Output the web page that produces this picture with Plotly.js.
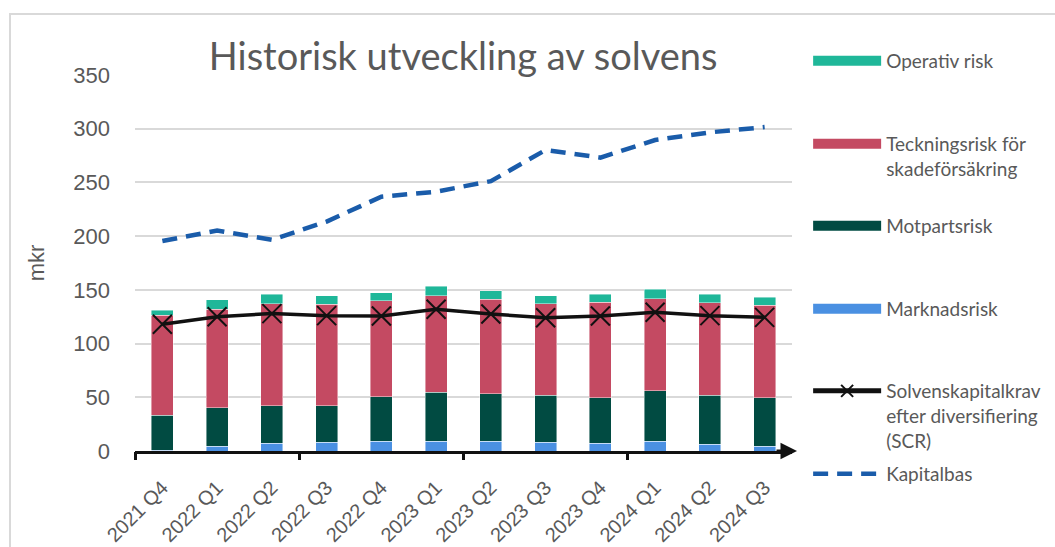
<!DOCTYPE html>
<html>
<head>
<meta charset="utf-8">
<script src="https://cdn.plot.ly/plotly-3.0.1.min.js"></script>
<style>
  html, body { margin: 0; padding: 0; background: #ffffff; }
  #wrap { position: relative; width: 1055px; height: 547px; overflow: hidden; }
  #frame { position: absolute; left: 9px; top: 13px; width: 1200px; height: 700px; border: 2px solid #d9d9d9; box-sizing: border-box; }
  #chart { position: absolute; left: 0; top: 0; width: 1055px; height: 547px; }
</style>
</head>
<body>
<div id="wrap">
  <div id="frame"></div>
  <div id="chart"></div>
</div>
<script>
const categories = ['2021 Q4','2022 Q1','2022 Q2','2022 Q3','2022 Q4','2023 Q1','2023 Q2','2023 Q3','2023 Q4','2024 Q1','2024 Q2','2024 Q3'];
const marknadsrisk = [0.5, 4.6, 7.4, 8.1, 9.0, 9.3, 9.0, 8.1, 7.4, 9.0, 6.5, 4.6];
const motpartsrisk = [33.0, 35.7, 34.5, 33.8, 41.6, 45.6, 44.4, 44.0, 42.2, 46.9, 45.6, 45.0];
const teckningsrisk = [92.8, 91.6, 95.3, 94.7, 89.4, 89.7, 87.8, 85.1, 88.9, 85.9, 85.7, 86.3];
const operativRisk = [4.7, 9.0, 8.7, 8.0, 7.1, 8.7, 7.8, 7.1, 7.4, 9.0, 8.1, 7.2];
const scr = [118, 125, 127.9, 126, 125.7, 131.9, 127.6, 124, 125.7, 129.1, 126, 124.4];
const kapitalbas = [195.4, 205.2, 196.6, 213.6, 236.7, 241.4, 251.2, 280.2, 273.1, 289.5, 296.6, 301.5];
const yTicks = [0, 50, 100, 150, 200, 250, 300, 350];
const boundaryTicks = [-0.5, 2.5, 5.5, 8.5];

const C_OP = '#1FB799', C_TECK = '#C44A62', C_MOT = '#014B42', C_MARK = '#4A90E2', C_KAP = '#1A5CAA';
const barLine = { color: 'rgba(255,255,255,0.55)', width: 0.8 };

function bar(name, y, color) {
  return { type: 'bar', name: name, x: categories, y: y, marker: { color: color, line: barLine },
           width: 0.4, showlegend: false, hoverinfo: 'name+y' };
}
function legendSwatch(name, color, legendId) {
  return { type: 'scatter', mode: 'lines', name: name, x: [null], y: [null],
           line: { color: color, width: 12 }, legend: legendId, hoverinfo: 'skip' };
}

const traces = [
  bar('Marknadsrisk', marknadsrisk, C_MARK),
  bar('Motpartsrisk', motpartsrisk, C_MOT),
  bar('Teckningsrisk för skadeförsäkring', teckningsrisk, C_TECK),
  bar('Operativ risk', operativRisk, C_OP),
  { type: 'scatter', mode: 'lines+markers', name: 'Solvenskapitalkrav<br>efter diversifiering<br>(SCR)',
    x: categories, y: scr, line: { color: '#111111', width: 3.5 },
    marker: { symbol: 'x-thin', size: 19, color: '#111111', line: { color: '#111111', width: 2 } },
    legend: 'legend5' },
  { type: 'scatter', mode: 'lines', name: 'Kapitalbas', x: categories, y: kapitalbas,
    line: { color: C_KAP, width: 4.5, dash: '15px,9px' }, legend: 'legend6' },
  legendSwatch('Operativ risk', C_OP, 'legend'),
  legendSwatch('Teckningsrisk för<br>skadeförsäkring', C_TECK, 'legend2'),
  legendSwatch('Motpartsrisk', C_MOT, 'legend3'),
  legendSwatch('Marknadsrisk', C_MARK, 'legend4')
];

const legFont = { family: 'Lato, "Liberation Sans", sans-serif', size: 19, color: '#595959' };
function leg(yPx, extra) {
  return Object.assign({ xref: 'container', yref: 'container', x: 0.766, y: 1 - yPx / 547, xanchor: 'left', yanchor: 'top',
           valign: 'top', itemwidth: 68, font: legFont, bgcolor: 'rgba(0,0,0,0)', itemclick: false, itemdoubleclick: false }, extra || {});
}

const layout = {
  width: 1055, height: 547,
  margin: { l: 135, r: 263, t: 75, b: 96 },
  paper_bgcolor: 'rgba(0,0,0,0)', plot_bgcolor: 'rgba(0,0,0,0)',
  barmode: 'stack',
  title: { text: 'Historisk utveckling av solvens', xref: 'container', yref: 'container',
           x: 0.439, y: 1 - 57 / 547, xanchor: 'center', yanchor: 'middle',
           font: { family: 'Lato, "Liberation Sans", sans-serif', size: 38, color: '#595959' } },
  xaxis: { type: 'category', range: [-0.5, 11.5], tickangle: -45, ticks: '', showgrid: false, zeroline: false,
           showline: true, linecolor: '#111111', linewidth: 3, ticklabelstandoff: 14,
           tickfont: { family: '"Liberation Sans", Arial, sans-serif', size: 20, color: '#595959' } },
  xaxis2: { type: 'linear', overlaying: 'x', anchor: 'y', side: 'bottom', range: [-0.5, 11.5],
            tickmode: 'array', tickvals: boundaryTicks, ticks: 'outside', ticklen: 8, tickwidth: 3,
            tickcolor: '#111111', showticklabels: false, showgrid: false, zeroline: false, showline: false },
  yaxis: { range: [0, 350], tickmode: 'array', tickvals: yTicks, showgrid: true, gridcolor: '#d9d9d9', gridwidth: 1.5,
           zeroline: false, showline: false, ticks: '', ticklabelstandoff: 24,
           tickfont: { family: '"Liberation Sans", Arial, sans-serif', size: 22, color: '#595959' },
           title: { text: 'mkr', standoff: 22, font: { family: '"Liberation Sans", Arial, sans-serif', size: 22, color: '#595959' } } },
  legend: leg(42), legend2: leg(125), legend3: leg(207), legend4: leg(290),
  legend5: leg(372, { itemsizing: 'constant' }), legend6: leg(455),
  annotations: [
    { xref: 'x2 domain', yref: 'y domain', x: 1, y: 0, xshift: 5, ax: -22, ay: 0, axref: 'pixel', ayref: 'pixel',
      text: '', showarrow: true, arrowhead: 2, arrowsize: 1.1, arrowwidth: 3, arrowcolor: '#111111' }
  ],
  hovermode: 'closest'
};

// empty trace that activates xaxis2 (boundary tick marks only)
traces.push({ type: 'scatter', x: [null], y: [null], xaxis: 'x2', yaxis: 'y', showlegend: false, hoverinfo: 'skip' });

Plotly.newPlot('chart', traces, layout, { displayModeBar: false });
</script>
</body>
</html>
